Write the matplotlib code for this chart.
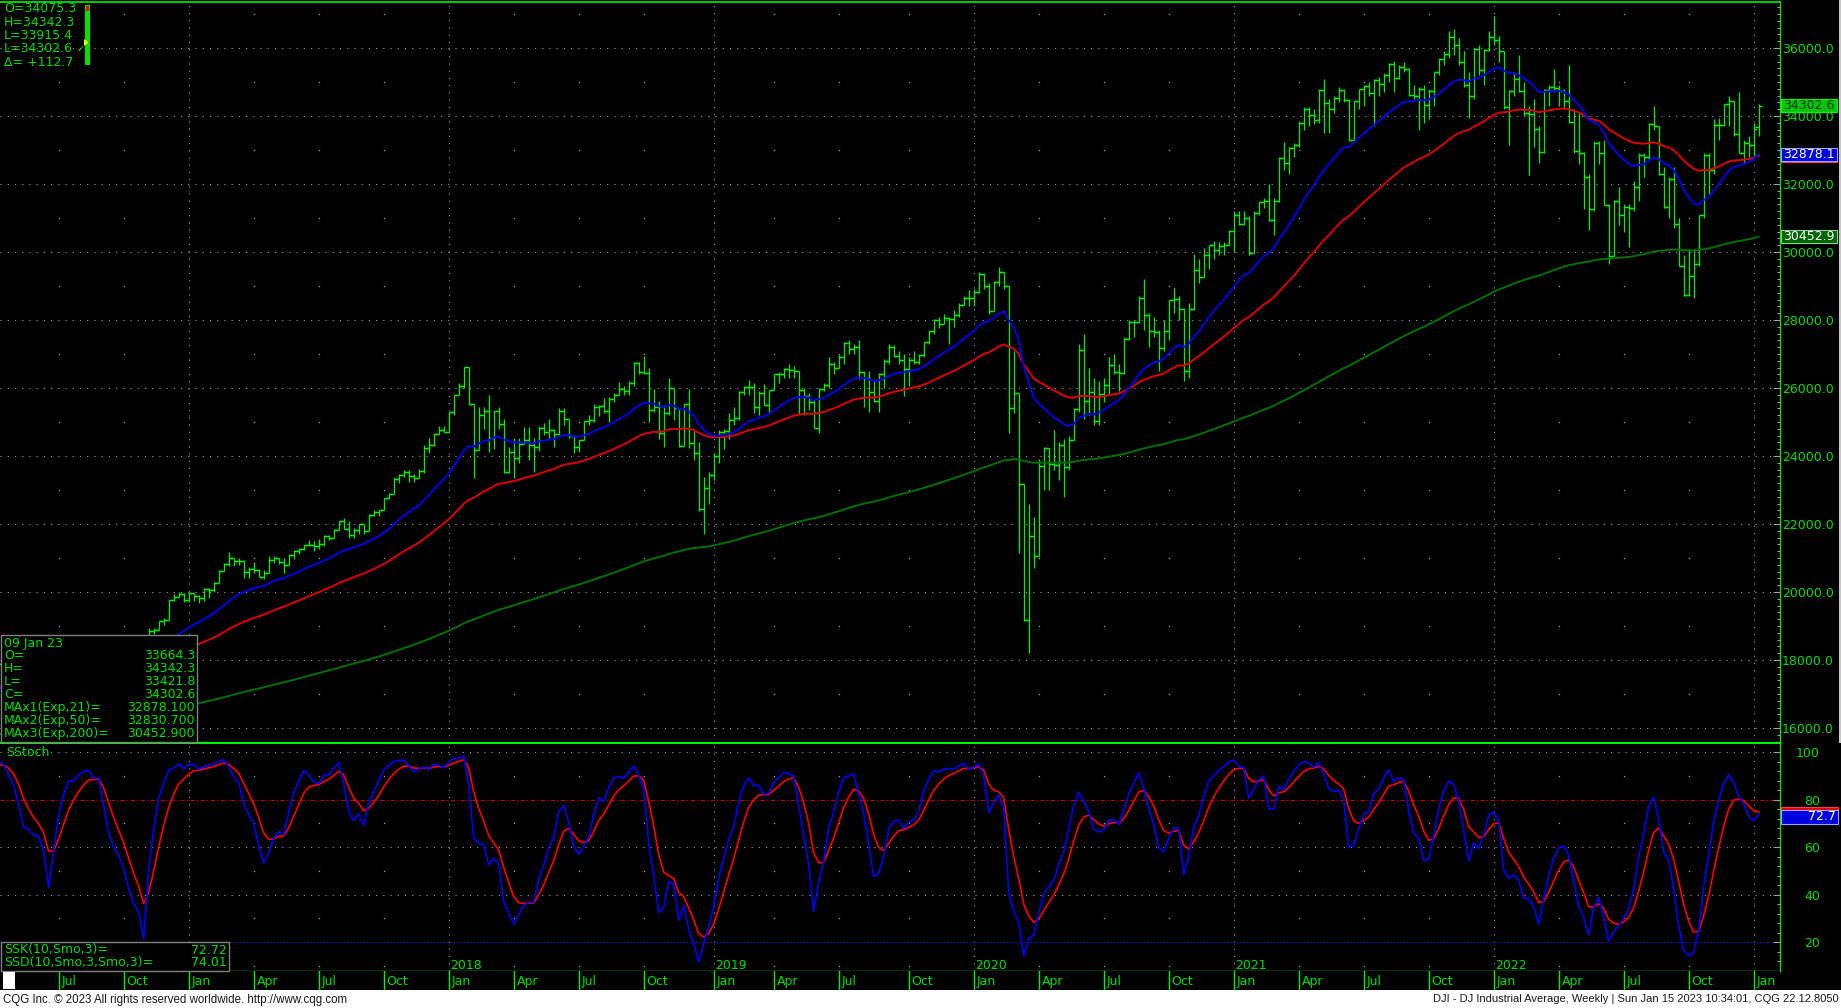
import numpy as np
import pandas as pd
import matplotlib
matplotlib.use("Agg")
import matplotlib.pyplot as plt
from matplotlib.patches import Rectangle, Polygon
from matplotlib.ticker import MultipleLocator, FuncFormatter
from matplotlib import transforms

plt.rcParams['font.family'] = ['DejaVu Sans']

# DJI weekly bars, one per week, weeks starting Mon 04 Jan 2016 .. Mon 09 Jan 2023
first_week = "2016-01-04"

opens = [
    # 2016
    17405, 16346, 15988, 16093, 16466, 16205, 15974, 16392, 16640, 17007, 17213, 17602, 17516,
    17793, 17577, 17897, 18004, 17774, 17740, 17535, 17501, 17873, 17807, 17865, 17675, 17400,
    17949, 18146, 18516, 18571, 18432, 18543, 18576, 18552, 18395, 18492, 18085, 18124, 18262,
    18308, 18240, 18138, 18145, 18161, 17888, 18848, 18868, 19152, 19171, 19757, 19843, 19934,
    # 2017
    19763, 19964, 19886, 19827, 20094, 20071, 20269, 20624, 20822, 21006, 20903, 20915, 20597,
    20663, 20656, 20453, 20548, 20941, 21007, 20897, 20805, 21080, 21206, 21272, 21384, 21395,
    21350, 21414, 21638, 21580, 21830, 22092, 21858, 21675, 21814, 21988, 21798, 22268, 22350,
    22405, 22773, 22871, 23329, 23434, 23539, 23422, 23358, 23558, 24232, 24329, 24652, 24754,
    # 2018
    24719, 25296, 25803, 26072, 26617, 25521, 24191, 25219, 25310, 24538, 25336, 24946, 23533,
    24103, 23933, 24360, 24463, 24311, 24263, 24831, 24715, 24753, 24635, 25317, 25090, 24580,
    24271, 24456, 25019, 25058, 25451, 25463, 25313, 25669, 25790, 25965, 25917, 26154, 26744,
    26458, 26447, 25340, 25444, 24688, 25271, 25989, 25413, 24286, 25538, 24389, 24101, 22445,
    23062,
    # 2019
    23433, 23996, 24706, 24737, 25064, 25106, 25883, 26031, 26026, 25450, 25849, 25502, 25929,
    26425, 26412, 26559, 26543, 26505, 25942, 25764, 25586, 24815, 25984, 26090, 26719, 26600,
    26922, 27332, 27154, 27192, 26485, 26287, 25886, 25629, 26403, 26797, 27220, 26935, 26820,
    26573, 26817, 26770, 26958, 27347, 27681, 28005, 27876, 28051, 28015, 28135, 28455, 28645,
    # 2020
    28634, 28824, 29348, 28990, 28256, 29103, 29398, 28992, 25409, 25865, 23186, 19174, 21637,
    21053, 23719, 24242, 23775, 23724, 24331, 23685, 24465, 25383, 27111, 25605, 25871, 25016,
    25827, 26075, 26672, 26470, 26428, 27433, 27931, 27930, 28654, 28133, 27666, 27657, 27174,
    27683, 28587, 28606, 28336, 26502, 28323, 29480, 29263, 29910, 30218, 30046, 30179, 30200,
    # 2021
    30606, 31098, 30814, 30997, 29983, 31148, 31458, 31494, 30932, 31496, 32779, 32628, 33073,
    33153, 33801, 34200, 34043, 33875, 34778, 34382, 34208, 34529, 34756, 34480, 33290, 34433,
    34786, 34870, 34688, 35062, 34935, 35209, 35515, 35120, 35455, 35369, 34607, 34584, 34798,
    34326, 34746, 35295, 35677, 35820, 36328, 36100, 35602, 34899, 34580, 35971, 35365, 35951,
    # 2022
    36338, 36232, 35912, 34265, 34725, 35089, 34738, 34079, 34059, 33615, 32945, 34755, 34862,
    34818, 34721, 34451, 33811, 32977, 32900, 32197, 31262, 33213, 32900, 31393, 29888, 31501,
    31098, 31338, 31289, 31899, 32845, 32803, 33761, 33707, 32283, 31318, 32152, 30822, 29590,
    28726, 29297, 29635, 31083, 32862, 32403, 33748, 33746, 34347, 34430, 33477, 32920, 33204,
    # 2023
    33147, 33664.3,
]

highs = [
    # 2016
    17405, 16591, 16116, 16486, 16510, 16205, 16478, 16700, 17099, 17240, 17620, 17623, 17793,
    17793, 17926, 18167, 18084, 17926, 17934, 17772, 17892, 17890, 18016, 17865, 18011, 17949,
    18146, 18622, 18622, 18595, 18614, 18668, 18638, 18582, 18560, 18668, 18280, 18372, 18357,
    18308, 18399, 18263, 18290, 18193, 18934, 18934, 19152, 19225, 19775, 19953, 19987, 19981,
    # 2017
    19999, 19974, 19899, 20126, 20125, 20298, 20639, 20841, 21170, 21006, 20992, 20940, 20745,
    20888, 20682, 20650, 21070, 21070, 21012, 21000, 21112, 21225, 21305, 21391, 21535, 21492,
    21562, 21681, 21681, 21843, 22092, 22180, 22084, 21875, 22008, 22000, 22280, 22419, 22411,
    22777, 22906, 23368, 23485, 23602, 23602, 23480, 23618, 24327, 24534, 24670, 24876, 24871,
    # 2018
    25299, 25804, 26154, 26617, 26617, 25530, 25433, 25432, 25800, 25336, 25449, 25097, 24270,
    24540, 24530, 24858, 24858, 24542, 24868, 24966, 25086, 24800, 25402, 25402, 25090, 24600,
    24456, 25019, 25215, 25527, 25500, 25692, 25746, 25850, 26167, 26062, 26194, 26770, 26770,
    26951, 26580, 25960, 25620, 25500, 26288, 26000, 25413, 25539, 25980, 24740, 24400, 23380,
    23520,
    # 2019
    24097, 24750, 24800, 25250, 25440, 25900, 26060, 26240, 26150, 25900, 26110, 25950, 26425,
    26470, 26600, 26695, 26660, 26505, 26000, 25850, 25680, 26000, 26150, 26900, 26750, 26966,
    27350, 27400, 27300, 27400, 26500, 26500, 26250, 26450, 26850, 27300, 27250, 27100, 27000,
    26900, 27100, 27000, 27350, 27700, 28040, 28090, 28175, 28100, 28300, 28500, 28700, 28872,
    # 2020
    28900, 29400, 29374, 29100, 29150, 29568, 29400, 28992, 27100, 25865, 23186, 22595, 22200,
    23900, 24250, 24242, 24764, 24400, 24500, 24600, 25400, 27300, 27580, 26600, 26300, 26200,
    26300, 26900, 27000, 26700, 27500, 28000, 28000, 28700, 29200, 28200, 28100, 27700, 28000,
    28600, 28950, 28700, 28350, 28500, 29933, 29800, 30116, 30220, 30320, 30300, 30300, 30640,
    # 2021
    31200, 31200, 31200, 31050, 31200, 31460, 31600, 32000, 31600, 32800, 33227, 33100, 33200,
    33850, 34250, 34256, 34200, 34800, 35091, 34500, 34600, 34850, 34800, 34500, 34450, 34800,
    34900, 35000, 35100, 35150, 35250, 35550, 35630, 35500, 35600, 35400, 34900, 34850, 34900,
    34800, 35300, 35700, 35900, 36500, 36565, 36300, 35900, 35300, 36000, 36100, 35960, 36500,
    # 2022
    36953, 36350, 35920, 34750, 35300, 35800, 35000, 34300, 34500, 33700, 34800, 34900, 35372,
    34900, 34800, 35500, 34200, 34100, 32950, 32300, 33250, 33250, 33300, 31400, 31520, 31900,
    31400, 31400, 32100, 32900, 32900, 33800, 34281, 33720, 32500, 32200, 32500, 31000, 29900,
    30100, 30100, 31100, 32900, 32900, 33900, 33950, 34360, 34600, 34450, 34700, 33300, 33400,
    # 2023
    33800, 34342.3,
]

lows = [
    # 2016
    16314, 15842, 15450, 15880, 15960, 15503, 15974, 16165, 16510, 16821, 17117, 17451, 17432,
    17484, 17509, 17863, 17666, 17580, 17500, 17332, 17437, 17661, 17807, 17603, 17356, 17063,
    17713, 18146, 18424, 18361, 18247, 18460, 18450, 18340, 18329, 18085, 17993, 18068, 18023,
    18136, 18029, 18018, 18090, 17883, 17888, 18776, 18868, 19024, 19171, 19737, 19843, 19719,
    # 2017
    19720, 19749, 19677, 19732, 19831, 19999, 20269, 20624, 20775, 20777, 20797, 20413, 20412,
    20550, 20453, 20379, 20548, 20862, 20832, 20554, 20805, 20964, 21105, 21226, 21357, 21197,
    21279, 21339, 21515, 21580, 21830, 21843, 21600, 21600, 21709, 21709, 21798, 22244, 22230,
    22405, 22726, 22871, 23200, 23380, 23242, 23242, 23340, 23508, 24100, 24290, 24652, 24700,
    # 2018
    24700, 25200, 25800, 26000, 25490, 23360, 24191, 24800, 24117, 24215, 24800, 23509, 23509,
    23345, 23786, 24350, 23887, 23531, 24141, 24605, 24543, 24251, 24635, 24900, 24528, 24084,
    24111, 24456, 24900, 25000, 25180, 25250, 25000, 25600, 25790, 25800, 25800, 26060, 26400,
    26400, 25000, 25300, 24500, 24268, 25200, 25050, 24268, 24286, 24242, 23881, 22397, 21713,
    22600,
    # 2019
    23300, 23800, 24200, 24500, 24900, 25050, 25800, 25800, 25250, 25200, 25500, 25300, 25929,
    26140, 26300, 26300, 26300, 25222, 25200, 25350, 24815, 24680, 25900, 26000, 26400, 26600,
    26700, 27000, 27000, 26250, 25450, 25300, 25600, 25300, 26000, 26700, 26900, 26700, 25750,
    26050, 26700, 26700, 26900, 27300, 27600, 27750, 27876, 27300, 27800, 28100, 28450, 28400,
    # 2020
    28400, 28800, 28900, 28170, 28250, 29000, 28900, 24681, 25250, 21154, 19150, 18214, 20700,
    21053, 23000, 23000, 23600, 23300, 22790, 23600, 24465, 25300, 25100, 25200, 24900, 24900,
    25600, 25800, 26400, 25900, 26400, 27400, 27500, 27900, 27700, 27200, 27500, 26500, 27100,
    27400, 28200, 28000, 26200, 26300, 28300, 29100, 29250, 29500, 29800, 29900, 29900, 30200,
    # 2021
    30000, 30800, 30800, 29900, 29983, 31100, 31300, 30900, 30500, 31480, 32400, 32300, 32800,
    33100, 33600, 33700, 33750, 33800, 33500, 33500, 34100, 34400, 34400, 33270, 33280, 34200,
    34300, 34600, 33700, 34600, 34700, 35000, 34700, 35100, 35300, 34600, 34500, 33600, 33800,
    33900, 34300, 35200, 35500, 35700, 35800, 35500, 34860, 33950, 34500, 35200, 34900, 35900,
    # 2022
    36100, 35600, 34200, 33150, 34600, 34700, 34000, 32272, 33100, 32632, 32900, 34300, 34700,
    34300, 34200, 33800, 32900, 32600, 31250, 30635, 31200, 32600, 31390, 29650, 29870, 30800,
    30600, 30150, 31200, 31500, 32200, 32700, 33600, 32250, 31300, 31000, 30700, 29590, 28715,
    28700, 28660, 29600, 31000, 31700, 32300, 33300, 33700, 33700, 33400, 32900, 32600, 32800,
    # 2023
    32812, 33421.8,
]

closes = [
    # 2016
    16346, 15988, 16093, 16466, 16205, 15974, 16392, 16640, 17007, 17213, 17602, 17516, 17793,
    17577, 17897, 18004, 17774, 17740, 17535, 17501, 17873, 17807, 17865, 17675, 17400, 17949,
    18146, 18516, 18571, 18432, 18543, 18576, 18552, 18395, 18492, 18085, 18124, 18262, 18308,
    18240, 18138, 18145, 18161, 17888, 18848, 18868, 19152, 19171, 19757, 19843, 19934, 19763,
    # 2017
    19964, 19886, 19827, 20094, 20071, 20269, 20624, 20822, 21006, 20903, 20915, 20597, 20663,
    20656, 20453, 20548, 20941, 21007, 20897, 20805, 21080, 21206, 21272, 21384, 21395, 21350,
    21414, 21638, 21580, 21830, 22092, 21858, 21675, 21814, 21988, 21798, 22268, 22350, 22405,
    22773, 22871, 23329, 23434, 23539, 23422, 23358, 23558, 24232, 24329, 24652, 24754, 24719,
    # 2018
    25296, 25803, 26072, 26617, 25521, 24191, 25219, 25310, 24538, 25336, 24946, 23533, 24103,
    23933, 24360, 24463, 24311, 24263, 24831, 24715, 24753, 24635, 25317, 25090, 24580, 24271,
    24456, 25019, 25058, 25451, 25463, 25313, 25669, 25790, 25965, 25917, 26154, 26744, 26458,
    26447, 25340, 25444, 24688, 25271, 25989, 25413, 24286, 25538, 24389, 24101, 22445, 23062,
    23433,
    # 2019
    23996, 24706, 24737, 25064, 25106, 25883, 26031, 26026, 25450, 25849, 25502, 25929, 26425,
    26412, 26559, 26543, 26505, 25942, 25764, 25586, 24815, 25984, 26090, 26719, 26600, 26922,
    27332, 27154, 27192, 26485, 26287, 25886, 25629, 26403, 26797, 27220, 26935, 26820, 26573,
    26817, 26770, 26958, 27347, 27681, 28005, 27876, 28051, 28015, 28135, 28455, 28645, 28634,
    # 2020
    28824, 29348, 28990, 28256, 29103, 29398, 28992, 25409, 25865, 23186, 19174, 21637, 21053,
    23719, 24242, 23775, 23724, 24331, 23685, 24465, 25383, 27111, 25605, 25871, 25016, 25827,
    26075, 26672, 26470, 26428, 27433, 27931, 27930, 28654, 28133, 27666, 27657, 27174, 27683,
    28587, 28606, 28336, 26502, 28323, 29480, 29263, 29910, 30218, 30046, 30179, 30200, 30606,
    # 2021
    31098, 30814, 30997, 29983, 31148, 31458, 31494, 30932, 31496, 32779, 32628, 33073, 33153,
    33801, 34200, 34043, 33875, 34778, 34382, 34208, 34529, 34756, 34480, 33290, 34433, 34786,
    34870, 34688, 35062, 34935, 35209, 35515, 35120, 35455, 35369, 34607, 34584, 34798, 34326,
    34746, 35295, 35677, 35820, 36328, 36100, 35602, 34899, 34580, 35971, 35365, 35951, 36338,
    # 2022
    36232, 35912, 34265, 34725, 35089, 34738, 34079, 34059, 33615, 32945, 34755, 34862, 34818,
    34721, 34451, 33811, 32977, 32900, 32197, 31262, 33213, 32900, 31393, 29888, 31501, 31098,
    31338, 31289, 31899, 32845, 32803, 33761, 33707, 32283, 31318, 32152, 30822, 29590, 28726,
    29297, 29635, 31083, 32862, 32403, 33748, 33746, 34347, 34430, 33477, 32920, 33204, 33147,
    # 2023
    33631, 34302.6,
]

# moving averages: spans, starting values (before first bar) and the readout values
ema_spans = [21, 50, 200]
ema_seeds = [17300, 17400, 15650]
ema_names = ["MAx1(Exp,21)=", "MAx2(Exp,50)=", "MAx3(Exp,200)="]
ema_readout = [32878.1, 32830.7, 30452.9]
ssk_readout, ssd_readout = 72.72, 74.01

top_info = ["O=34075.3", "H=34342.3", "L=33915.4", "L=34302.6", "\u0394= +112.7"]
bar_label = "09 Jan 23"
year_labels = [2018, 2019, 2020, 2021, 2022]
price_ticks = list(range(16000, 36001, 2000))
stoch_ticks = [20, 40, 60, 80, 100]
qnames = {1: "Jan", 4: "Apr", 7: "Jul", 10: "Oct"}

# ---------------------------------------------------------------------------
W, H = 1841, 1008
GREEN = "#00f000"
TXT = "#00e000"
GRAY = "#a0a0a0"

weeks = pd.date_range(first_week, periods=len(closes), freq="W-MON")
x = np.arange(len(closes))
o, h, l, c = (np.array(v, dtype=float) for v in (opens, highs, lows, closes))

emas = []
for n, s in zip(ema_spans, ema_seeds):
    emas.append(pd.Series([s] + closes).ewm(span=n, adjust=False).mean().to_numpy()[1:])

hh = pd.Series(h).rolling(10).max()
ll = pd.Series(l).rolling(10).min()
num = (pd.Series(c) - ll).ewm(alpha=1 / 3, adjust=False).mean()
den = (hh - ll).ewm(alpha=1 / 3, adjust=False).mean()
ssk = 100 * num / den
ssd = ssk.ewm(alpha=1 / 3, adjust=False).mean()

PR = 1779.6
xlim = (14.26, 370.18)

q_idx = [i for i in range(len(weeks)) if weeks[i].month in qnames
         and (i == 0 or weeks[i - 1].month != weeks[i].month) and i > xlim[0]]
jan_idx = [i for i in q_idx if weeks[i].month == 1]
other_q = [i for i in q_idx if weeks[i].month != 1]


def fx(px):
    return px / W


def fy(py):
    return 1 - py / H


fig = plt.figure(figsize=(W / 100, H / 100), dpi=100, facecolor="black")
dot = (0, (1, 5.5))

axm = fig.add_axes([0, fy(743), fx(PR), (743 - 2) / H])
axs = fig.add_axes([0, fy(971), fx(PR), (971 - 744) / H])
axd = fig.add_axes([0, fy(990), fx(PR), (990 - 971) / H])

for ax in (axm, axs, axd):
    ax.set_facecolor("black")
    ax.set_xlim(*xlim)
    ax.set_xticks([])
    for sp in ax.spines.values():
        sp.set_visible(False)

# ---- main price panel
axm.set_ylim(15558.8, 37352.9)
axm.spines["top"].set_visible(True)
axm.spines["top"].set_color(GREEN)
axm.spines["top"].set_linewidth(1.2)
axm.spines["right"].set_visible(True)
axm.spines["right"].set_color(GREEN)
axm.spines["right"].set_linewidth(0.9)
axm.spines["bottom"].set_visible(True)
axm.spines["bottom"].set_color(GREEN)
axm.spines["bottom"].set_linewidth(1.6)

for p in price_ticks:
    axm.axhline(p, color=GRAY, lw=0.8, ls=dot, zorder=0.5)
for j in jan_idx:
    axm.axvline(j, color=GRAY, lw=0.8, ls=dot, zorder=0.5)
odd_levels = list(range(17000, 37001, 2000))
for q in other_q:
    axm.plot([q] * len(odd_levels), odd_levels, ls="none", marker="s", ms=0.9, mew=0,
             color=GRAY, zorder=0.5)

axm.vlines(x, l, h, color=GREEN, lw=0.9, zorder=2)
axm.hlines(o, x - 0.65, x, color=GREEN, lw=1.0, zorder=2)
axm.hlines(c, x, x + 0.65, color=GREEN, lw=1.0, zorder=2)

axm.plot(x, emas[2], color="#007000", lw=1.4, zorder=3)
axm.plot(x, emas[1], color="#e00000", lw=1.4, zorder=3)
axm.plot(x, emas[0], color="#0000ee", lw=1.4, zorder=3)

axm.yaxis.tick_right()
axm.set_yticks(price_ticks)
axm.yaxis.set_major_formatter(FuncFormatter(lambda v, p: f"{v:.1f}"))
axm.yaxis.set_minor_locator(MultipleLocator(200))
axm.tick_params(axis="y", which="major", direction="in", length=5, width=0.8, color=GRAY,
                labelcolor=TXT, labelsize=9, pad=1.7)
axm.tick_params(axis="y", which="minor", direction="in", length=2.5, width=0.8, color=GRAY)

# ---- stochastic panel
axs.set_ylim(7.79, 103.37)
axs.spines["right"].set_visible(True)
axs.spines["right"].set_color(GREEN)
axs.spines["right"].set_linewidth(0.9)
axs.spines["bottom"].set_visible(True)
axs.spines["bottom"].set_color(GREEN)
axs.spines["bottom"].set_linewidth(1.0)

for v in (100, 60, 40):
    axs.axhline(v, color=GRAY, lw=0.8, ls=dot, zorder=0.5)
axs.axhline(80, color="#c00000", lw=0.8, ls=(0, (4, 2, 1, 2)), zorder=0.6)
axs.axhline(20, color="#2020ff", lw=0.8, ls=(0, (1, 2)), zorder=0.6)
for j in jan_idx:
    axs.axvline(j, color=GRAY, lw=0.8, ls=dot, zorder=0.5)
for q in other_q:
    axs.plot([q] * 5, [10, 30, 50, 70, 90], ls="none", marker="s", ms=0.9, mew=0,
             color=GRAY, zorder=0.5)

axs.plot(x, ssd, color="#ff0000", lw=1.2, zorder=3)
axs.plot(x, ssk, color="#0000ff", lw=1.2, zorder=3)

axs.yaxis.tick_right()
axs.set_yticks(stoch_ticks)
axs.yaxis.set_minor_locator(MultipleLocator(4))
axs.tick_params(axis="y", which="major", direction="in", length=5, width=0.8, color=GRAY,
                labelcolor=TXT, labelsize=9, pad=29)
axs.tick_params(axis="y", which="minor", direction="in", length=2.5, width=0.8, color=GRAY)
for t in axs.get_yticklabels():
    t.set_horizontalalignment("right")

bt = transforms.blended_transform_factory(axs.transData, axs.transAxes)
for yr in year_labels:
    i = next(k for k in jan_idx if weeks[k].year == yr)
    axs.text(i + 0.3, 0.025, str(yr), transform=bt, color=TXT, fontsize=9,
             ha="left", va="center", zorder=4)
axs.text(0.0035, 0.962, "SStoch", transform=axs.transAxes, color=TXT, fontsize=9,
         ha="left", va="center")

# ---- date row
axd.set_ylim(0, 1)
for q in q_idx:
    axd.axvline(q, color=GREEN, lw=1.0)
    axd.text(q + 0.55, 0.47, qnames[weeks[q].month], color=TXT, fontsize=9,
             ha="left", va="center")


# ---- figure-level overlays in pixel coordinates
def px_rect(x0, y0, x1, y1, **kw):
    r = Rectangle((fx(x0), fy(y1)), fx(x1) - fx(x0), (y1 - y0) / H,
                  transform=fig.transFigure, **kw)
    fig.add_artist(r)
    return r


def px_text(xp, yp, s, **kw):
    kw.setdefault("fontsize", 9)
    kw.setdefault("color", TXT)
    kw.setdefault("va", "center")
    return fig.text(fx(xp), fy(yp), s, **kw)


def ypix(ax, v):
    return H - ax.transData.transform((xlim[0], v))[1]


# thin window edge at the far right of the price panel
px_rect(1838.5, 0, 1840.5, 743, facecolor="#c8c8c8", edgecolor="none")

# value boxes on the right axis
yv = ypix(axm, ema_readout[1])
px_rect(1781, yv - 6.5, 1837, yv + 6.5, facecolor="#d00000", edgecolor="#ff4040", lw=0.8)
yv = ypix(axm, ema_readout[0])
px_rect(1781, yv - 6.5, 1837, yv + 6.5, facecolor="#0000e0", edgecolor="#a0a0ff", lw=0.8)
px_text(1783, yv, f"{ema_readout[0]:.1f}", color="white")
yv = ypix(axm, ema_readout[2])
px_rect(1781, yv - 6.5, 1837, yv + 6.5, facecolor="#006400", edgecolor="#90d090", lw=0.8)
px_text(1783, yv, f"{ema_readout[2]:.1f}", color="white")
yv = ypix(axm, closes[-1])
px_rect(1781, yv - 6.5, 1837, yv + 6.5, facecolor="#00c800", edgecolor="#00ff00", lw=0.8)
px_text(1783, yv, f"{closes[-1]:.1f}", color="#003000")

yv = ypix(axs, ssd_readout)
px_rect(1781, yv - 7, 1838, yv + 7, facecolor="#e00000", edgecolor="#ff4040", lw=0.8)
yv = ypix(axs, ssk_readout)
px_rect(1781, yv - 7, 1838, yv + 7, facecolor="#0000e0", edgecolor="#a0a0ff", lw=0.8)
px_text(1836, yv, f"{ssk_readout:.1f}", color="white", ha="right")

# top-left quote block
for k, s in enumerate(top_info):
    px_text(4, 8.5 + 13.5 * k, s)
px_text(77, 49, "\u2713", fontsize=7)
px_rect(85, 5, 90, 65, facecolor="#00e000", edgecolor="none")
px_rect(86, 6, 89, 11, facecolor="#ff0000", edgecolor="none")
fig.add_artist(Polygon([(fx(84), fy(39)), (fx(84), fy(46)), (fx(88.5), fy(42.5))],
                       closed=True, transform=fig.transFigure, facecolor="#ffff00",
                       edgecolor="none"))

# bar readout box
px_rect(0.5, 635, 197, 742, facecolor="black", edgecolor="#808080", lw=1.0)
rows = [(bar_label, ""), ("O=", f"{opens[-1]:.1f}"), ("H=", f"{highs[-1]:.1f}"),
        ("L=", f"{lows[-1]:.1f}"), ("C=", f"{closes[-1]:.1f}")]
rows += [(nm, f"{v:.3f}") for nm, v in zip(ema_names, ema_readout)]
for k, (lab, val) in enumerate(rows):
    yy = 643 + 12.9 * k
    px_text(4, yy, lab)
    if val:
        px_text(195, yy, val, ha="right")

# stochastic readout box
px_rect(0.5, 942, 229, 971, facecolor="black", edgecolor="#808080", lw=1.0)
px_text(4, 950, "SSK(10,Smo,3)=")
px_text(227, 950, f"{ssk_readout:.2f}", ha="right")
px_text(4, 962.5, "SSD(10,Smo,3,Smo,3)=")
px_text(227, 962.5, f"{ssd_readout:.2f}", ha="right")

# small white box in the date row
px_rect(3, 972, 15, 989, facecolor="white", edgecolor="none")

# footer
px_rect(0, 990, W, H, facecolor="white", edgecolor="none")
px_text(3, 999.5, "CQG Inc. \u00a9 2023 All rights reserved worldwide. http://www.cqg.com",
        color="#1a1a1a", fontsize=8.3, family=["Liberation Sans", "DejaVu Sans"])
px_text(1839, 999.5, "DJI - DJ Industrial Average, Weekly | Sun Jan 15 2023 10:34:01, CQG 22.12.8050",
        color="#1a1a1a", fontsize=8, ha="right", family=["Liberation Sans", "DejaVu Sans"])

fig.savefig("out.png", dpi=100, facecolor="black")
